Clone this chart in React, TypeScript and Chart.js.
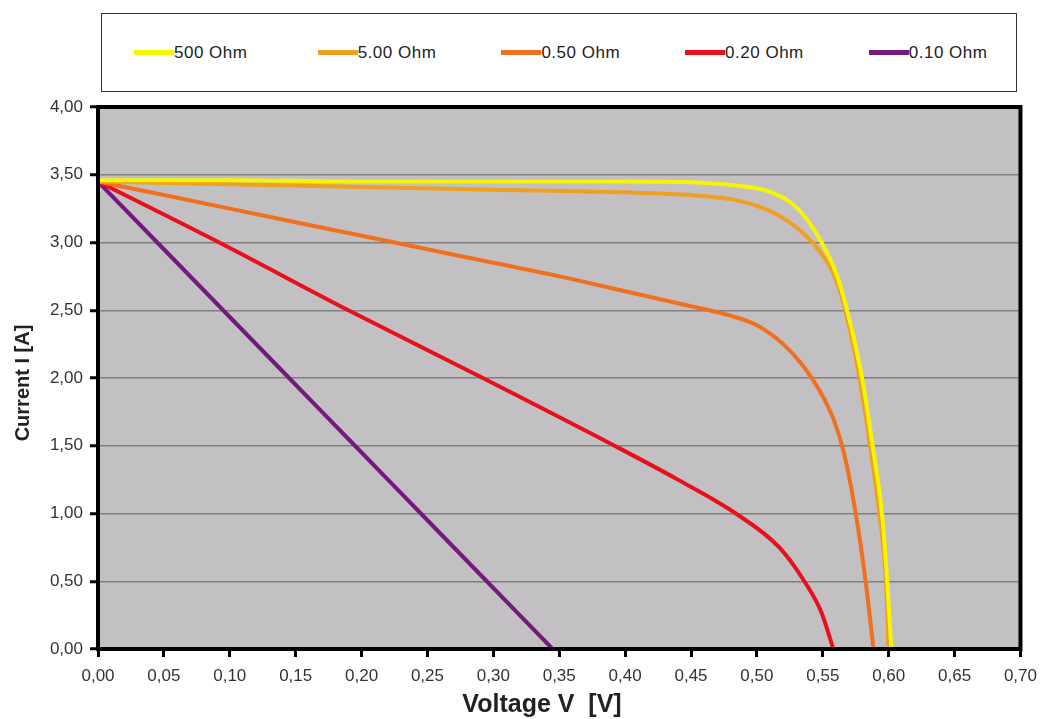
import React, { useEffect, useRef } from "react";
import { Chart, registerables } from "chart.js";

Chart.register(...registerables);

// Load resistance labels, colours
const seriesNames = ["500 Ohm", "5.00 Ohm", "0.50 Ohm", "0.20 Ohm", "0.10 Ohm"];
const seriesColors = ["#f6f600", "#f0a020", "#f07020", "#e8101c", "#741a7c"];

// Voltage (V) / current (A) pairs for each curve
const v500 = [0, 0.1, 0.2, 0.3, 0.4, 0.461, 0.493, 0.511, 0.531, 0.548, 0.561, 0.571, 0.58, 0.588, 0.595, 0.599, 0.602];
const i500 = [3.46, 3.46, 3.45, 3.45, 3.45, 3.44, 3.41, 3.37, 3.25, 3.02, 2.75, 2.4, 1.99, 1.49, 0.99, 0.49, 0.0];

const v5 = [0, 0.1, 0.2, 0.3, 0.4, 0.45, 0.48, 0.5, 0.52, 0.535, 0.548, 0.558, 0.566, 0.578, 0.586, 0.593, 0.598, 0.6];
const i5 = [3.45, 3.43, 3.41, 3.39, 3.37, 3.35, 3.32, 3.27, 3.18, 3.07, 2.93, 2.77, 2.54, 1.99, 1.49, 0.99, 0.49, 0.0];

const v050 = [0, 0.05, 0.1, 0.15, 0.2, 0.25, 0.3, 0.35, 0.4, 0.45, 0.48, 0.5, 0.52, 0.535, 0.548, 0.558, 0.566, 0.575, 0.5825, 0.5885];
const i050 = [3.45, 3.35, 3.25, 3.15, 3.05, 2.95, 2.85, 2.75, 2.64, 2.53, 2.46, 2.39, 2.25, 2.09, 1.9, 1.7, 1.45, 1.0, 0.5, 0.0];

const v020 = [0, 0.092, 0.19, 0.292, 0.392, 0.44, 0.484, 0.517, 0.536, 0.549, 0.558];
const i020 = [3.45, 3.0, 2.5, 2.0, 1.5, 1.25, 1.0, 0.75, 0.5, 0.27, 0.0];

const v010 = [0, 0.045, 0.095, 0.145, 0.195, 0.245, 0.295, 0.345];
const i010 = [3.45, 3.0, 2.5, 2.0, 1.5, 1.0, 0.5, 0.0];

const voltages = [v500, v5, v050, v020, v010];
const currents = [i500, i5, i050, i020, i010];

const xTitle = "Voltage V  [V]";
const yTitle = "Current I [A]";

const FONT = "'Liberation Sans', Arial, sans-serif";
const commaFmt = (v: number) => Number(v).toFixed(2).replace(".", ",");

// Grey plot background, heavy frame and axis titles
const framePlugin = {
  id: "frame",
  beforeDraw(chart: any) {
    const { ctx, chartArea: a } = chart;
    ctx.save();
    ctx.fillStyle = "#c2c0c2";
    ctx.fillRect(a.left, a.top, a.right - a.left, a.bottom - a.top);
    ctx.restore();
  },
  afterDatasetsDraw(chart: any) {
    const { ctx, chartArea: a } = chart;
    ctx.save();
    ctx.strokeStyle = "#000";
    ctx.lineWidth = 4;
    ctx.strokeRect(a.left, a.top, a.right - a.left, a.bottom - a.top);
    ctx.restore();
  },
  afterDraw(chart: any) {
    const { ctx } = chart;
    ctx.save();
    ctx.fillStyle = "#222";
    ctx.textAlign = "center";
    ctx.textBaseline = "middle";
    ctx.font = `bold 25px ${FONT}`;
    ctx.fillText(xTitle, 542, 705);
    ctx.font = `bold 20px ${FONT}`;
    ctx.translate(23, 383);
    ctx.rotate(-Math.PI / 2);
    ctx.fillText(yTitle, 0, 0);
    ctx.restore();
  },
};

export default function App() {
  const ref = useRef<HTMLCanvasElement | null>(null);

  useEffect(() => {
    if (!ref.current) return;
    const datasets = seriesNames.map((name, k) => ({
      label: name,
      data: voltages[k].map((v, j) => ({ x: v, y: currents[k][j] })),
      borderColor: seriesColors[k],
      backgroundColor: seriesColors[k],
      borderWidth: 4,
      pointRadius: 0,
      cubicInterpolationMode: "monotone" as const,
      fill: false,
    }));

    const chart = new Chart(ref.current, {
      type: "line",
      data: { datasets },
      options: {
        animation: false,
        responsive: false,
        maintainAspectRatio: false,
        layout: { padding: { left: 0, top: 107, right: 24, bottom: 0 } },
        plugins: { legend: { display: false }, tooltip: { enabled: false } },
        scales: {
          x: {
            type: "linear",
            min: 0,
            max: 0.7,
            afterFit: (s: any) => {
              s.height = 70;
            },
            ticks: {
              stepSize: 0.05,
              callback: (v: any) => commaFmt(v),
              font: { family: FONT, size: 17 },
              color: "#333",
              padding: 9,
              maxRotation: 0,
              autoSkip: false,
            },
            grid: {
              drawOnChartArea: false,
              drawTicks: true,
              tickLength: 8,
              tickWidth: 3,
              tickColor: "#000",
            },
            border: { display: false },
            title: { display: false },
          },
          y: {
            type: "linear",
            min: 0,
            max: 4,
            afterFit: (s: any) => {
              s.width = 98;
            },
            ticks: {
              stepSize: 0.5,
              callback: (v: any) => commaFmt(v),
              font: { family: FONT, size: 17 },
              color: "#333",
              padding: 7,
            },
            grid: {
              color: "#808080",
              lineWidth: 1.5,
              drawTicks: true,
              tickLength: 8,
              tickWidth: 3,
              tickColor: "#000",
            },
            border: { display: false },
            title: { display: false },
          },
        },
      },
      plugins: [framePlugin],
    });
    return () => chart.destroy();
  }, []);

  return (
    <div
      style={{
        position: "fixed",
        left: 0,
        top: 0,
        width: 1046,
        height: 719,
        background: "#fff",
        fontFamily: FONT,
      }}
    >
      <canvas ref={ref} width={1046} height={719} style={{ position: "absolute", left: 0, top: 0 }} />
      <div
        style={{
          position: "absolute",
          left: 101,
          top: 13,
          width: 916,
          height: 79,
          border: "1.5px solid #333",
          background: "#fff",
          boxSizing: "border-box",
        }}
      >
        {seriesNames.map((name, k) => (
          <div
            key={name}
            style={{
              position: "absolute",
              left: 32 + k * 183.7,
              top: 0,
              height: "100%",
              display: "flex",
              alignItems: "center",
            }}
          >
            <span
              style={{
                display: "inline-block",
                width: 40,
                height: 5,
                background: seriesColors[k],
              }}
            />
            <span style={{ fontSize: 17, color: "#222", whiteSpace: "nowrap", letterSpacing: 0.5 }}>{name}</span>
          </div>
        ))}
      </div>
    </div>
  );
}
